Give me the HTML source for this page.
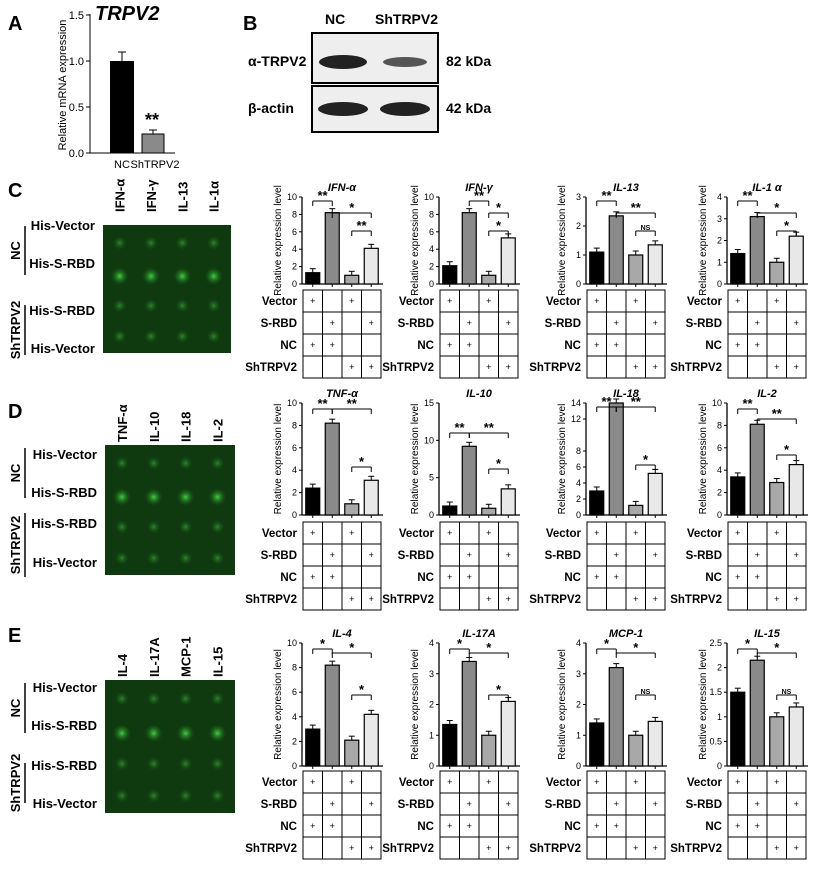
<!DOCTYPE html><html><head><style>body{margin:0;background:#fff}svg text{font-family:"Liberation Sans",Arial,sans-serif}</style></head><body>
<svg id="s" width="816" height="867" xmlns="http://www.w3.org/2000/svg">
<defs><radialGradient id="g"><stop offset="0" stop-color="#3fd23f"/><stop offset="1" stop-color="#1a5a1a" stop-opacity="0"/></radialGradient>
<radialGradient id="gd"><stop offset="0" stop-color="#2a8a2a"/><stop offset="1" stop-color="#1a4a1a" stop-opacity="0"/></radialGradient></defs>
</svg>
<script>
const s=document.getElementById('s');let h='';
const T=(x,y,t,o='')=>h+=`<text x="${x}" y="${y}" ${o}>${t}</text>`;
const L=(a,b,c,d,w=1)=>h+=`<line x1="${a}" y1="${b}" x2="${c}" y2="${d}" stroke="#000" stroke-width="${w}"/>`;
T(8,30,'A','font-size="20" font-weight="bold"');T(95,20,'TRPV2','font-size="20" font-weight="bold" font-style="italic"');
L(90,14,90,153);[[0,153],[0.5,107],[1,61],[1.5,15]].forEach(([v,y])=>{L(86,y,90,y);T(84,y+4,v.toFixed(1),'font-size="11" text-anchor="end"')});
T(66,85,'Relative mRNA expression','font-size="11" text-anchor="middle" transform="rotate(-90 66 85)"');
h+=`<rect x="110" y="61" width="24" height="92" fill="#000"/><rect x="142" y="134" width="22" height="19" fill="#8a8a8a" stroke="#000"/>`;
L(122,52,122,61);L(118,52,126,52);L(153,130,153,134);L(149,130,157,130);L(90,153,175,153);
T(152,126,'**','font-size="18" font-weight="bold" text-anchor="middle"');
T(122,168,'NC','font-size="11" text-anchor="middle"');T(155,168,'ShTRPV2','font-size="11" text-anchor="middle"');
T(243,30,'B','font-size="20" font-weight="bold"');T(325,24,'NC','font-size="14" font-weight="bold"');T(375,24,'ShTRPV2','font-size="14" font-weight="bold"');
h+=`<rect x="312" y="33" width="126" height="50" fill="#eee" stroke="#000" stroke-width="2"/><rect x="312" y="86" width="126" height="46" fill="#eee" stroke="#000" stroke-width="2"/>
<ellipse cx="343" cy="62" rx="24" ry="7" fill="#222"/><ellipse cx="405" cy="62" rx="22" ry="5" fill="#555"/>
<ellipse cx="343" cy="109" rx="25" ry="7" fill="#222"/><ellipse cx="405" cy="109" rx="25" ry="7" fill="#222"/>`;
T(248,66,'α-TRPV2','font-size="14" font-weight="bold"');T(248,113,'β-actin','font-size="14" font-weight="bold"');
T(446,66,'82 kDa','font-size="14" font-weight="bold"');T(446,113,'42 kDa','font-size="14" font-weight="bold"');
function blot(lab,lx,ly,x,y,w,hh,cy,cols,rows,ln){
 T(lx,ly,lab,'font-size="20" font-weight="bold"');
 h+=`<rect x="${x}" y="${y}" width="${w}" height="${hh}" fill="#0f3a0f"/>`;
 cols.forEach((c,i)=>{const cx=x+w*(0.13+i*0.245);T(cx+5,cy,c,`font-size="13" font-weight="bold" transform="rotate(-90 ${cx+5} ${cy})"`);
  [0.14,0.4,0.63,0.87].forEach((f,j)=>{h+=`<circle cx="${cx}" cy="${y+hh*f}" r="${j==1?9:7}" fill="url(#${j==1?'g':'gd'})"/>`})});
 rows.forEach(([t,yy])=>T(x-8,yy,t,'font-size="13" font-weight="bold" text-anchor="end"'));
 L(25,ln[0],25,ln[1],1.5);L(25,ln[2],25,ln[3],1.5);
 const a=(ln[0]+ln[1])/2,b=(ln[2]+ln[3])/2;
 T(20,a,'NC',`font-size="13" font-weight="bold" text-anchor="middle" transform="rotate(-90 20 ${a})"`);
 T(20,b,'ShTRPV2',`font-size="13" font-weight="bold" text-anchor="middle" transform="rotate(-90 20 ${b})"`);
}
blot('C',8,197,103,225,128,128,212,['IFN-α','IFN-γ','IL-13','IL-1α'],[['His-Vector',230],['His-S-RBD',268],['His-S-RBD',315],['His-Vector',353]],[226,275,305,355]);
blot('D',8,418,105,445,130,130,442,['TNF-α','IL-10','IL-18','IL-2'],[['His-Vector',459],['His-S-RBD',497],['His-S-RBD',528],['His-Vector',567]],[448,498,513,577]);
blot('E',8,642,105,680,130,133,677,['IL-4','IL-17A','MCP-1','IL-15'],[['His-Vector',692],['His-S-RBD',730],['His-S-RBD',770],['His-Vector',808]],[683,733,763,803]);
const X=[303,440,587,728],cl=['#000','#8a8a8a','#a8a8a8','#e8e8e8'];
function chart(i,top,bot,tt,title,mx,ticks,vals,sig){
 const x=X[i],k=(bot-top)/mx,cw=19.5,c=j=>x+cw*j+cw/2,y=v=>bot-v*k;
 T(x+39,top-6,title,'font-size="11" font-weight="bold" font-style="italic" text-anchor="middle"');
 L(x-1,top,x-1,bot,1.3);ticks.forEach(v=>{L(x-4,y(v),x-1,y(v));T(x-6,y(v)+3,v,'font-size="9" text-anchor="end"')});
 L(x-1,bot,x+80,bot,1.3);
 T(x-22,(top+bot)/2,'Relative expression level',`font-size="10" text-anchor="middle" transform="rotate(-90 ${x-22} ${(top+bot)/2})"`);
 vals.forEach((v,j)=>{h+=`<rect x="${c(j)-7}" y="${y(v)}" width="14" height="${v*k}" fill="${cl[j]}" stroke="#000" stroke-width="1.2"/>`;const e=y(v)-4;L(c(j),e,c(j),y(v));L(c(j)-3,e,c(j)+3,e);L(c(j),bot,c(j),bot+3)});
 sig.forEach(([a,b,ly,t])=>{const yy=top+ly;L(c(a),yy,c(b),yy);L(c(a),yy,c(a),yy+5);L(c(b),yy,c(b),yy+5);T((c(a)+c(b))/2,yy-1,t,`font-size="${t=='NS'?7:13}" font-weight="bold" text-anchor="middle"`)});
 const r=['Vector','S-RBD','NC','ShTRPV2'],p=[[1,0,1,0],[0,1,0,1],[1,1,0,0],[0,0,1,1]];
 h+=`<rect x="${x}" y="${tt}" width="78" height="88" fill="none" stroke="#000"/>`;
 for(let q=1;q<4;q++){L(x,tt+22*q,x+78,tt+22*q);L(x+cw*q,tt,x+cw*q,tt+88)}
 r.forEach((n,q)=>{T(x-6,tt+22*q+15,n,'font-size="11.5" font-weight="bold" text-anchor="end"');p[q].forEach((f,j)=>{if(f)T(c(j),tt+22*q+14,'+','font-size="9" text-anchor="middle"')})});
}
chart(0,197,284,290,'IFN-α',10,[0,2,4,6,8,10],[1.3,8.2,1,4.1],[[0,1,4,'**'],[1,3,16,'*'],[2,3,34,'**']]);
chart(1,197,284,290,'IFN-γ',10,[0,2,4,6,8,10],[2.1,8.2,1,5.3],[[1,2,4,'**'],[2,3,16,'*'],[2,3,34,'*']]);
chart(2,197,284,290,'IL-13',3,[0,1,2,3],[1.1,2.35,1,1.35],[[0,1,4,'**'],[1,3,16,'**'],[2,3,34,'NS']]);
chart(3,197,284,290,'IL-1 α',4,[0,1,2,3,4],[1.4,3.1,1,2.2],[[0,1,4,'**'],[1,3,16,'*'],[2,3,34,'*']]);
chart(0,403,515,522,'TNF-α',10,[0,2,4,6,8,10],[2.4,8.2,1,3.1],[[0,1,6,'**'],[1,3,6,'**'],[2,3,64,'*']]);
chart(1,403,515,522,'IL-10',15,[0,5,10,15],[1.2,9.2,0.9,3.5],[[0,1,30,'**'],[1,3,30,'**'],[2,3,66,'*']]);
chart(2,403,515,522,'IL-18',14,[0,2,4,6,8,12,14],[3,14,1.2,5.2],[[0,1,4,'**'],[1,3,4,'**'],[2,3,62,'*']]);
chart(3,403,515,522,'IL-2',10,[0,2,4,6,8,10],[3.4,8.1,2.9,4.5],[[0,1,6,'**'],[1,3,16,'**'],[2,3,52,'*']]);
chart(0,643,766,771,'IL-4',10,[0,2,4,6,8,10],[3,8.2,2.1,4.2],[[0,1,6,'*'],[1,3,10,'*'],[2,3,52,'*']]);
chart(1,643,766,771,'IL-17A',4,[0,1,2,3,4],[1.35,3.4,1,2.1],[[0,1,6,'*'],[1,3,10,'*'],[2,3,52,'*']]);
chart(2,643,766,771,'MCP-1',4,[0,1,2,3,4],[1.4,3.2,1,1.45],[[0,1,6,'*'],[1,3,10,'*'],[2,3,52,'NS']]);
chart(3,643,766,771,'IL-15',2.5,[0,0.5,1,1.5,2,2.5],[1.5,2.15,1,1.2],[[0,1,6,'*'],[1,3,10,'*'],[2,3,52,'NS']]);
s.insertAdjacentHTML('beforeend',h);
</script></body></html>
